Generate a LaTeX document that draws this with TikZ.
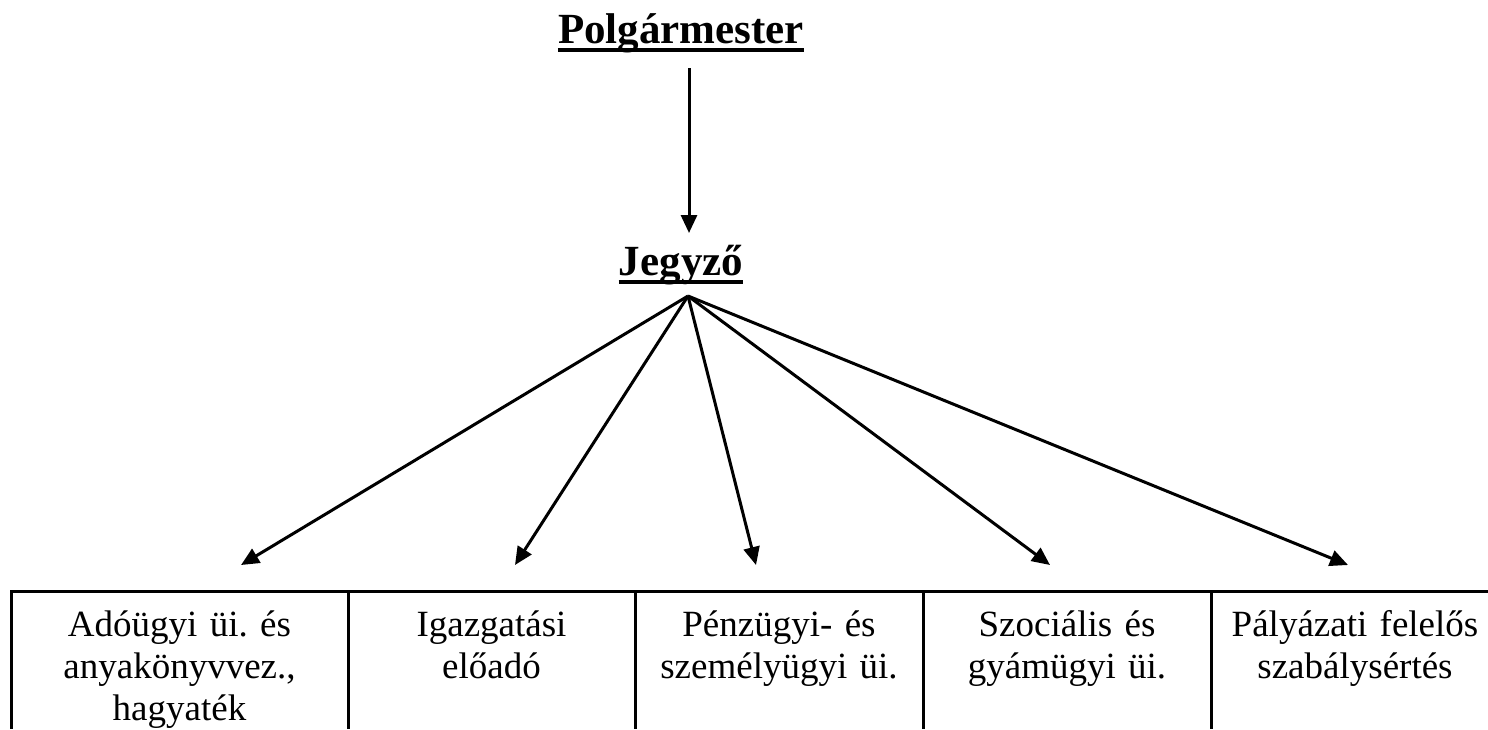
\documentclass[tikz,border=0pt]{standalone}
\usepackage{fontspec}
\setmainfont{Liberation Serif}
\usetikzlibrary{arrows.meta}
\frenchspacing
\tikzset{
  title/.style={font=\bfseries\fontsize{43}{50}\selectfont, inner sep=0pt, anchor=base},
  cell/.style={font=\fontsize{37}{42}\selectfont, inner sep=0pt, anchor=base, text width=285pt, align=center},
  arr/.style={line width=3pt, -{Triangle[length=18pt,width=16pt]}},
  ul/.style={line width=4pt},
  grid/.style={line width=3pt}
}
\begin{document}
\begin{tikzpicture}[x=1pt,y=-1pt]
\useasboundingbox (0,0) rectangle (1488,729);
\node[title] (pol) at (681,43) {Polgármester};
\draw[ul] ([yshift=-7pt]pol.base west) -- ([yshift=-7pt]pol.base east);
\node[title] (jeg) at (681,275) {Jegyző};
\draw[ul] ([yshift=-7pt]jeg.base west) -- ([yshift=-7pt]jeg.base east);
\coordinate (pout) at (689,68);
\coordinate (jin) at (689,233);
\coordinate (hub) at (688,296);
\coordinate (a1) at (241,565);
\coordinate (a2) at (515,565);
\coordinate (a3) at (756,565);
\coordinate (a4) at (1050,565);
\coordinate (a5) at (1348,565);
\draw[arr] (pout) -- (jin);
\foreach \t in {a1,a2,a3,a4,a5} \draw[arr] (hub) -- (\t);
% table
\draw[grid] (10,591) -- (1488,591);
\foreach \x in {11,348,635,923,1211} \draw[grid] (\x,591) -- (\x,729);
\node[cell] (c1) at (179.5,636) {Adóügyi üi. és\\anyakönyvvez.,\\hagyaték};
\node[cell] (c2) at (491.5,636) {Igazgatási\\előadó};
\node[cell] (c3) at (779,636) {Pénzügyi- és\\személyügyi üi.};
\node[cell] (c4) at (1067,636) {Szociális és\\gyámügyi üi.};
\node[cell] (c5) at (1355,636) {Pályázati felelős\\szabálysértés};
\end{tikzpicture}
\end{document}
